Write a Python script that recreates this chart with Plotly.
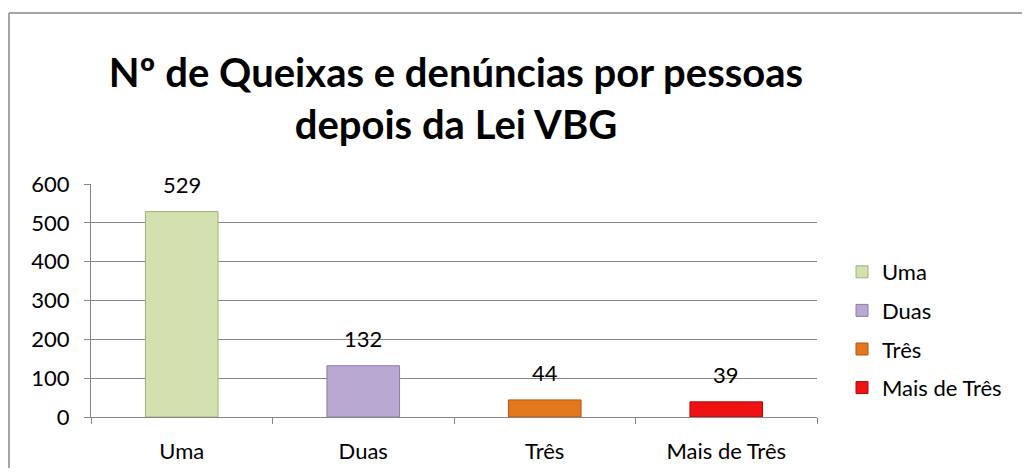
import plotly.graph_objects as go

categories = ["Uma", "Duas", "Três", "Mais de Três"]
values = [529, 132, 44, 39]
colors = ["#D3E1AE", "#B9A8D1", "#E4761C", "#EE1212"]
line_colors = ["#9FB27A", "#8E7CA8", "#B2560F", "#B00D0D"]
y_ticks = [0, 100, 200, 300, 400, 500, 600]
title_text = "Nº de Queixas e denúncias por pessoas<br>depois da Lei VBG"

FONT = "Lato"
FS = 22

# page body has an 8px margin; figure coords = page coords - 8
W, H = 1014, 460
L, T = 83, 176
R_EDGE, B_EDGE = 809, 409
PW, PH = R_EDGE - L, B_EDGE - T

fig = go.Figure()
for i, (c, v) in enumerate(zip(categories, values)):
    fig.add_trace(go.Bar(
        x=[c], y=[v], name=c, width=0.4,
        marker=dict(color=colors[i], line=dict(color=line_colors[i], width=1)),
        legendgroup=c,
    ))
    fig.add_annotation(x=c, y=v, text=str(v), showarrow=False, yanchor="bottom",
                       yshift=12, font=dict(family=FONT, size=FS, color="#000"))

bx = (1 - L) / PW
by = (B_EDGE - 5) / PH

fig.update_layout(
    width=W, height=H,
    margin=dict(l=L, r=W - R_EDGE, t=T, b=H - B_EDGE, autoexpand=False),
    paper_bgcolor="white", plot_bgcolor="white",
    barmode="overlay",
    font=dict(family=FONT, size=FS, color="#000"),
    title=dict(text=title_text, x=448 / W, xanchor="center", y=1 - 79 / H, yanchor="middle",
               font=dict(family=FONT, size=40, color="#000", weight="bold")),
    showlegend=True,
    legend=dict(x=(834 - L) / PW, xanchor="left", y=(B_EDGE - 322) / PH, yanchor="middle",
                font=dict(family=FONT, size=FS), tracegroupgap=7,
                itemwidth=30, bgcolor="rgba(0,0,0,0)"),
    xaxis=dict(type="category", categoryorder="array", categoryarray=categories,
               showline=True, linecolor="#868686", linewidth=1, automargin=False,
               ticks="outside", tickson="boundaries", ticklen=6, tickcolor="#868686",
               showgrid=False, ticklabelstandoff=15,
               tickfont=dict(family=FONT, size=FS)),
    yaxis=dict(range=[0, 600], tickvals=y_ticks, showline=True, linecolor="#868686",
               linewidth=1, ticks="outside", ticklen=6, tickcolor="#868686", automargin=False,
               showgrid=True, gridcolor="#868686", gridwidth=1, zeroline=False,
               ticklabelstandoff=10, tickfont=dict(family=FONT, size=FS)),
    shapes=[
        dict(type="line", xref="paper", yref="paper", x0=bx, x1=1.4, y0=by, y1=by,
             line=dict(color="#868686", width=1.5)),
        dict(type="line", xref="paper", yref="paper", x0=bx, x1=bx, y0=-0.5, y1=by,
             line=dict(color="#868686", width=1.5)),
    ],
)
fig.write_html("out.html")
